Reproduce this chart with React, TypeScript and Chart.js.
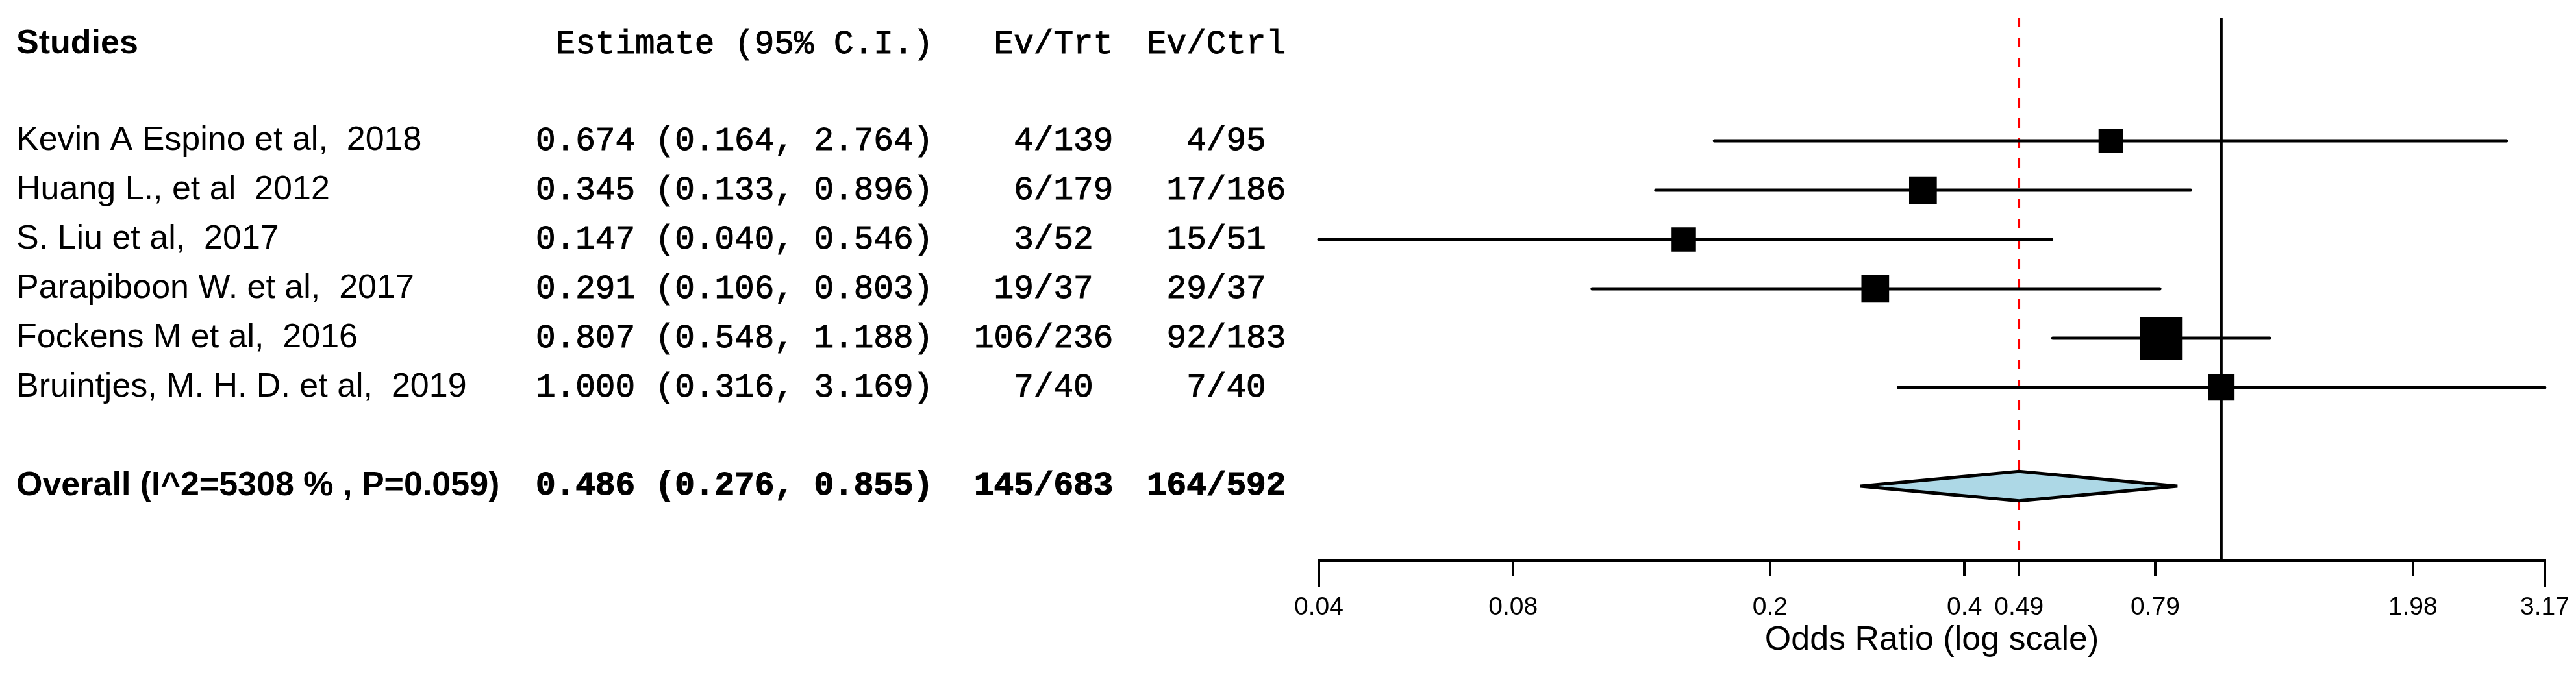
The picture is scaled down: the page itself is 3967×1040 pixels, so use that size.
import React, { useEffect, useRef } from "react";
import { Chart, registerables } from "chart.js";

Chart.register(...registerables);

// ---------------- data ----------------
const studies = [
  "Kevin A Espino et al,  2018",
  "Huang L., et al  2012",
  "S. Liu et al,  2017",
  "Parapiboon W. et al,  2017",
  "Fockens M et al,  2016",
  "Bruintjes, M. H. D. et al,  2019",
];
const estimates = [0.674, 0.345, 0.147, 0.291, 0.807, 1.0];
const lowerCI = [0.164, 0.133, 0.04, 0.106, 0.548, 0.316];
const upperCI = [2.764, 0.896, 0.546, 0.803, 1.188, 3.169];
const eventsTrt = [4, 6, 3, 19, 106, 7];
const totalTrt = [139, 179, 52, 37, 236, 40];
const eventsCtrl = [4, 17, 15, 29, 92, 7];
const totalCtrl = [95, 186, 51, 37, 183, 40];
const weights = [11.3, 14.6, 11.3, 14.6, 34.9, 13.2]; // relative study weights (%)

const overallLabel = "Overall (I^2=5308 % , P=0.059)";
const overallEstimate = [0.486];
const overallLower = [0.276];
const overallUpper = [0.855];
const overallTrt = [145, 683];
const overallCtrl = [164, 592];

const headers = ["Studies", "Estimate (95% C.I.)", "Ev/Trt", "Ev/Ctrl"];
const nullValue = [1];
const tickValues = [0.04, 0.08, 0.2, 0.4, 0.486, 0.79, 1.98, 3.17];
const tickLabels = ["0.04", "0.08", "0.2", "0.4", "0.49", "0.79", "1.98", "3.17"];
const axisRange = [0.04, 3.17];
const axisTitle = "Odds Ratio (log scale)";

// ---------------- layout constants ----------------
const W = 3967;
const H = 1040;
const HEADER_ROW = 0;
const FIRST_STUDY_ROW = 2;
const OVERALL_ROW = 9;
const DIAMOND_HALF = 0.3;
const MAX_BOX = 66;
const SANS = '"Liberation Sans", Arial, sans-serif';
const MONO = '"Liberation Mono", "Courier New", monospace';
const CHAR_W = 30.6;

const fmtEst = (e: number, l: number, u: number) =>
  `${e.toFixed(3)} (${l.toFixed(3)}, ${u.toFixed(3)})`;
const fmtEv = (e: number, n: number) =>
  `${String(e).padStart(3, " ")}/${String(n).padEnd(3, " ")}`;

const studyRow = (i: number) => FIRST_STUDY_ROW + i;

function monoText(ctx: CanvasRenderingContext2D, s: string, x: number, y: number) {
  ctx.fillText(s, x, y);
  ctx.strokeText(s, x, y);
}

const textPlugin = {
  id: "forestText",
  afterDraw(chart: any) {
    const ctx = chart.ctx as CanvasRenderingContext2D;
    const ys = chart.scales.y;
    const xs = chart.scales.x;
    ctx.save();
    ctx.fillStyle = "#000";
    ctx.strokeStyle = "#000";
    ctx.textBaseline = "middle";

    const estX = 825;
    const trtX = 1500;
    const ctrlX = 1766;

    // header
    const hy = ys.getPixelForValue(HEADER_ROW) + 3;
    ctx.textAlign = "left";
    ctx.font = `bold 52px ${SANS}`;
    ctx.fillText(headers[0], 25, hy);
    ctx.font = `51px ${MONO}`;
    ctx.lineWidth = 1.0;
    monoText(ctx, headers[1], estX + CHAR_W, hy);
    monoText(ctx, headers[2], trtX + CHAR_W, hy);
    monoText(ctx, headers[3], ctrlX, hy);

    // studies
    studies.forEach((s, i) => {
      const y = ys.getPixelForValue(studyRow(i));
      ctx.font = `52px ${SANS}`;
      ctx.fillText(s, 25, y);
      ctx.font = `51px ${MONO}`;
      monoText(ctx, fmtEst(estimates[i], lowerCI[i], upperCI[i]), estX, y);
      monoText(ctx, fmtEv(eventsTrt[i], totalTrt[i]), trtX, y);
      monoText(ctx, fmtEv(eventsCtrl[i], totalCtrl[i]), ctrlX, y);
    });

    // overall
    const oy = ys.getPixelForValue(OVERALL_ROW);
    ctx.font = `bold 52px ${SANS}`;
    ctx.fillText(overallLabel, 25, oy);
    ctx.font = `bold 51px ${MONO}`;
    ctx.lineWidth = 1.2;
    monoText(ctx, fmtEst(overallEstimate[0], overallLower[0], overallUpper[0]), estX, oy);
    monoText(ctx, fmtEv(overallTrt[0], overallTrt[1]), trtX, oy);
    monoText(ctx, fmtEv(overallCtrl[0], overallCtrl[1]), ctrlX, oy);

    // longer end ticks of the axis
    ctx.lineWidth = 4;
    const top = xs.top;
    axisRange.forEach((v) => {
      const x = xs.getPixelForValue(v);
      ctx.beginPath();
      ctx.moveTo(x, top);
      ctx.lineTo(x, top + 42);
      ctx.stroke();
    });
    ctx.restore();
  },
};

export default function App() {
  const ref = useRef<HTMLCanvasElement>(null);

  useEffect(() => {
    const maxW = Math.max(...weights);
    const ciSets = studies.map((s, i) => ({
      label: s,
      data: [
        { x: lowerCI[i], y: studyRow(i) },
        { x: upperCI[i], y: studyRow(i) },
      ],
      showLine: true,
      fill: false,
      borderColor: "#000",
      borderWidth: 5,
      borderCapStyle: "round",
      pointRadius: 0,
      clip: false,
      order: 2,
    }));

    const boxes = {
      label: "estimates",
      data: estimates.map((e, i) => ({ x: e, y: studyRow(i) })),
      showLine: false,
      fill: false,
      pointStyle: "rect",
      pointRadius: weights.map((w) => (MAX_BOX * Math.sqrt(w / maxW)) / Math.SQRT2),
      backgroundColor: "#000",
      borderColor: "#000",
      borderWidth: 0,
      clip: false,
      order: 1,
    };

    const diamond = {
      label: "overall",
      data: [
        { x: overallLower[0], y: OVERALL_ROW },
        { x: overallEstimate[0], y: OVERALL_ROW - DIAMOND_HALF },
        { x: overallUpper[0], y: OVERALL_ROW },
        { x: overallEstimate[0], y: OVERALL_ROW + DIAMOND_HALF },
        { x: overallLower[0], y: OVERALL_ROW },
      ],
      showLine: true,
      fill: "shape",
      backgroundColor: "#ADD8E6",
      borderColor: "#000",
      borderWidth: 5,
      borderJoinStyle: "miter",
      pointRadius: 0,
      tension: 0,
      clip: false,
      order: 0,
    };

    const nullLine = {
      label: "null",
      data: [
        { x: nullValue[0], y: -0.5 },
        { x: nullValue[0], y: 10.5 },
      ],
      showLine: true,
      fill: false,
      borderColor: "#000",
      borderWidth: 4,
      pointRadius: 0,
      order: 3,
    };

    const overallLine = {
      label: "overall-line",
      data: [
        { x: overallEstimate[0], y: -0.5 },
        { x: overallEstimate[0], y: 10.5 },
      ],
      showLine: true,
      fill: false,
      borderColor: "#FF0000",
      borderWidth: 3.5,
      borderDash: [15, 16],
      pointRadius: 0,
      order: 4,
    };

    const chart = new Chart(ref.current as HTMLCanvasElement, {
      type: "scatter",
      data: { datasets: [diamond, boxes, ...ciSets, nullLine, overallLine] as any },
      options: {
        responsive: false,
        maintainAspectRatio: false,
        devicePixelRatio: 1,
        animation: false,
        events: [],
        layout: { autoPadding: false, padding: { left: 2031, right: 48, top: 27, bottom: 0 } },
        plugins: {
          legend: { display: false },
          tooltip: { enabled: false },
        },
        scales: {
          x: {
            type: "logarithmic",
            position: "bottom",
            min: axisRange[0],
            max: axisRange[1],
            afterBuildTicks: (scale: any) => {
              scale.ticks = tickValues.map((v) => ({ value: v }));
            },
            afterFit: (scale: any) => {
              scale.height = 177;
              scale.paddingLeft = 0;
              scale.paddingRight = 0;
              scale.paddingTop = 0;
              scale.paddingBottom = 0;
            },
            border: { display: true, color: "#000", width: 5 },
            grid: {
              display: true,
              drawOnChartArea: false,
              drawTicks: true,
              tickLength: 24,
              tickWidth: 4,
              tickColor: "#000",
              color: "#000",
              lineWidth: 4,
            },
            ticks: {
              autoSkip: false,
              maxRotation: 0,
              minRotation: 0,
              padding: 26,
              color: "#000",
              font: { family: SANS, size: 39 },
              callback: (_v: any, i: number) => tickLabels[i],
            },
            title: {
              display: true,
              text: axisTitle,
              color: "#000",
              font: { family: SANS, size: 52 },
              padding: { top: 0, bottom: 22 },
            },
          },
          y: {
            type: "linear",
            min: -0.5,
            max: 10.5,
            reverse: true,
            display: false,
            afterFit: (scale: any) => {
              scale.width = 0;
              scale.paddingLeft = 0;
              scale.paddingRight = 0;
              scale.paddingTop = 0;
              scale.paddingBottom = 0;
            },
          },
        },
      } as any,
      plugins: [textPlugin],
    });
    return () => chart.destroy();
  }, []);

  return (
    <div style={{ position: "fixed", left: 0, top: 0, width: W, height: H, background: "#fff" }}>
      <canvas ref={ref} width={W} height={H} style={{ width: W, height: H, display: "block" }} />
    </div>
  );
}
